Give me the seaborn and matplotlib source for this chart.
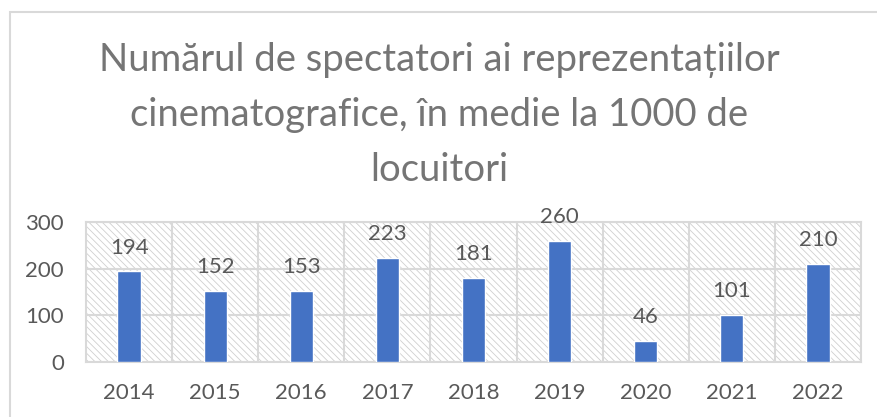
import numpy as np
import pandas as pd
import matplotlib
matplotlib.use('Agg')
import matplotlib.pyplot as plt
import seaborn as sns
from matplotlib.patches import Rectangle

years = ['2014', '2015', '2016', '2017', '2018', '2019', '2020', '2021', '2022']
spectators = [194, 152, 153, 223, 181, 260, 46, 101, 210]
title = 'Numărul de spectatori ai reprezentațiilor\ncinematografice, în medie la 1000 de\nlocuitori'

df = pd.DataFrame({'an': years, 'spectatori': spectators})

sns.set_theme(style='white')
plt.rcParams['font.family'] = ['Lato', 'DejaVu Sans']
plt.rcParams['hatch.color'] = '#cfcfcf'
plt.rcParams['hatch.linewidth'] = 0.6

text_col = '#595959'
grid_col = '#d9d9d9'

fig = plt.figure(figsize=(8.78, 4.17), dpi=100)
# outer chart border
fig.patches.append(Rectangle((10 / 878, -0.1), 1.2, 0.1 + 1 - 12 / 417,
                             transform=fig.transFigure, fill=False,
                             edgecolor=grid_col, linewidth=1.5))

ax = fig.add_axes([86 / 878, 1 - 362 / 417, (861 - 86) / 878, (362 - 222) / 417])

# hatched plot area background
ax.add_patch(Rectangle((0, 0), 1, 1, transform=ax.transAxes, facecolor='white',
                       hatch='\\\\\\\\\\', edgecolor='#cfcfcf', linewidth=0, zorder=0))

sns.barplot(data=df, x='an', y='spectatori', color='#4472C4', saturation=1,
            width=0.27, ax=ax, zorder=3)

ax.set_ylim(0, 300)
ax.set_xlim(-0.5, len(years) - 0.5)
ax.set_yticks([0, 100, 200, 300])
ax.set_xticks(np.arange(len(years)) + 0.5, minor=True)
ax.grid(True, axis='y', color=grid_col, linewidth=1.5, zorder=1)
ax.grid(True, axis='x', which='minor', color=grid_col, linewidth=1.5, zorder=1)
ax.set_axisbelow(True)
for s in ax.spines.values():
    s.set_color(grid_col)
    s.set_linewidth(1.5)

ax.tick_params(axis='both', which='both', length=0, labelsize=16, colors=text_col)
ax.tick_params(axis='x', pad=15)
ax.tick_params(axis='y', pad=16)
ax.set_xlabel('')
ax.set_ylabel('')

ax.bar_label(ax.containers[0], labels=[str(v) for v in spectators], padding=10,
             fontsize=16, color=text_col)

fig.text(0.5, 1 - 181 / 417, title, ha='center', va='baseline', fontsize=27.5,
         color='#757575', linespacing=1.65, multialignment='center')

fig.savefig('out.png', dpi=100)
